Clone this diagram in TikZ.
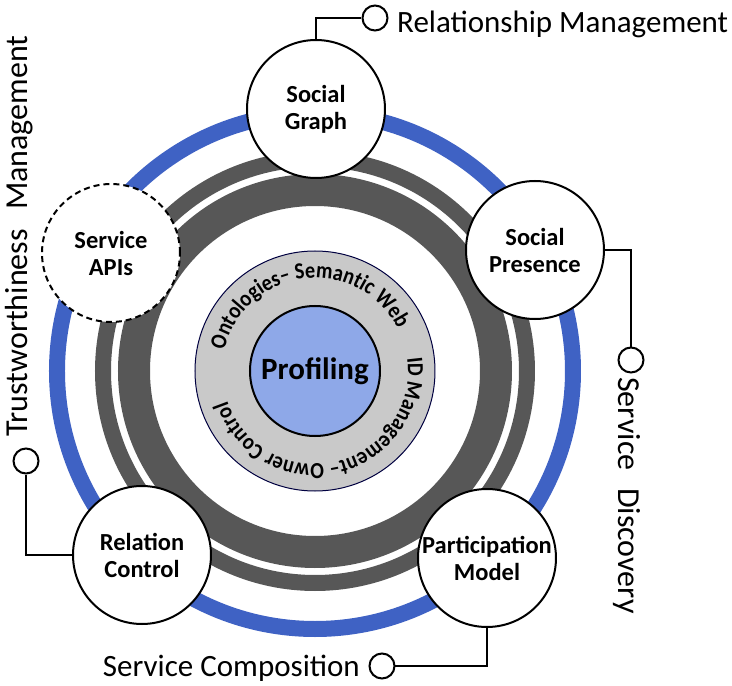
\documentclass[tikz,border=0pt]{standalone}
\usepackage{fontspec}
\setmainfont{Carlito}
\newfontfamily\ringfam[FakeStretch=0.88]{Carlito}
\usetikzlibrary{decorations.text}
\definecolor{ringblue}{HTML}{3F62C4}
\definecolor{darkgrey}{HTML}{575757}
\definecolor{lightgrey}{HTML}{C9C9C9}
\definecolor{profblue}{HTML}{8EA8E8}
\newcommand{\ringfont}{\ringfam\bfseries\fontsize{23}{23}\selectfont}
\begin{document}
\begin{tikzpicture}[x=1pt, y=1pt,
  topic/.style={circle, draw, line width=2pt, fill=white, minimum size=138pt, inner sep=0pt, align=center, font=\bfseries\fontsize{24.5}{27}\selectfont},
  dot/.style={circle, draw, line width=2pt, fill=white, minimum size=25pt, inner sep=0pt},
  wire/.style={line width=2.5pt},
  outer/.style={inner sep=0pt, font=\fontsize{31}{31}\selectfont},
  sideways/.style={inner sep=0pt, font=\fontsize{32}{32}\selectfont}]
\useasboundingbox (-315,-315) rectangle (417,371);
\draw[ringblue, line width=16pt] (0,0) circle[radius=258];
\draw[darkgrey, line width=16pt] (0,0) circle[radius=212];
\draw[darkgrey, line width=32pt] (0,0) circle[radius=181];
\draw[fill=lightgrey, draw=black!75!blue, line width=1pt] (0,0) circle[radius=120];
\node[circle, draw, line width=2pt, fill=profblue, minimum size=130pt, font=\bfseries\fontsize{31}{31}\selectfont] (prof) at (0,0) {Profiling};
\path[decorate, decoration={text along path, text align=left, text={|\ringfont|Ontologies– Semantic Web}}] (167:93) arc[start angle=167, end angle=-10, radius=93];
\path[decorate, decoration={text along path, text align=left, text={|\ringfont|ID Management– Owner Control}}] (8:93) arc[start angle=8, end angle=-195, radius=93];

\node[topic] (sg) at (1,262) {Social\\Graph};
\node[topic] (sp) at (220,121) {Social\\Presence};
\node[topic] (pm) at (172,-187) {Participation\\Model};
\node[topic] (rc) at (-173,-184) {Relation\\Control};
\node[topic, dash pattern=on 6pt off 4pt] (apis) at (-204,118) {Service\\APIs};

\node[dot] (rmdot) at (60,353) {};
\node[dot] (sddot) at (316,11) {};
\node[dot] (scdot) at (67,-295) {};
\node[dot] (tmdot) at (-289,-90) {};
\draw[wire] (sg.north) |- (rmdot.west);
\draw[wire] (sp.east) -| (sddot.north);
\draw[wire] (pm.south) |- (scdot.east);
\draw[wire] (rc.west) -| (tmdot.south);

\node[outer, anchor=base west] (rmtext) at (82,338) {Relationship Management};
\node[outer, anchor=base east] (sctext) at (45,-305) {Service Composition};
\node[sideways, rotate=-90, anchor=base west] (sdtext) at (304,-6) {Service\hspace{0.55em}Discovery};
\node[sideways, rotate=90, anchor=base west] (tmtext) at (-287,-66) {Trustworthiness\hspace{0.6em}Management};
\end{tikzpicture}
\end{document}
